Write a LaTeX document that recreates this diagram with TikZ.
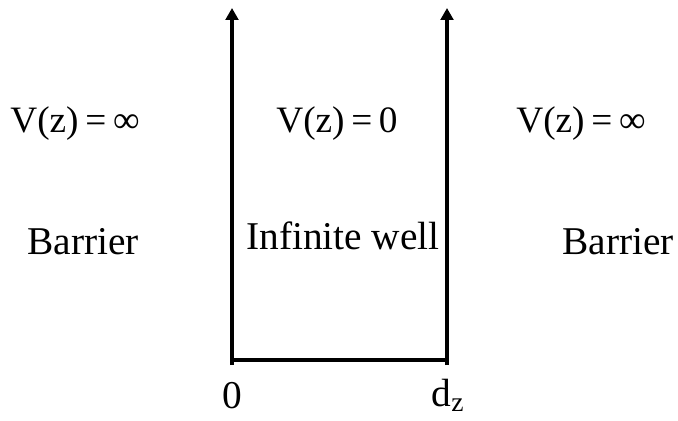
\documentclass[tikz,border=0pt]{standalone}
\usepackage{fontspec}
\setmainfont{Liberation Serif}
\usetikzlibrary{arrows.meta,positioning}

\begin{document}
\begin{tikzpicture}[
  wall/.style={line width=2.2pt,-{Triangle[length=8.5pt,width=9pt]}},
  floor/.style={line width=2.2pt},
  lbl/.style={font=\fontsize{28}{32}\selectfont,inner sep=0pt,anchor=base},
  pot/.style={lbl,font=\fontsize{26.5}{32}\selectfont}
]
  \useasboundingbox (0,0) rectangle (16.95,10.5);
  % walls of the well
  \coordinate (lbot) at (5.8,1.375);
  \coordinate (ltop) at (5.8,10.3);
  \coordinate (rbot) at (11.175,1.375);
  \coordinate (rtop) at (11.175,10.3);
  \coordinate (lfl) at (5.8,1.5);
  \coordinate (rfl) at (11.175,1.5);
  \draw[wall] (lbot) -- (ltop);
  \draw[wall] (rbot) -- (rtop);
  \draw[floor] (lfl) -- (rfl);
  % potentials
  \node[pot] (vleft) at (1.875,7.2) {V(z)\hspace{0.18em}=\hspace{0.18em}∞};
  \node[pot] (vmid) at (8.425,7.2) {V(z)\hspace{0.18em}=\hspace{0.18em}0};
  \node[pot] (vright) at (14.525,7.2) {V(z)\hspace{0.18em}=\hspace{0.18em}∞};
  % regions
  \node[lbl] (barl) at (2.075,4.15) {Barrier};
  \node[lbl] (well) at (8.575,4.275) {Infinite well};
  \node[lbl] (barr) at (15.45,4.15) {Barrier};
  % axis marks
  \node[lbl] (zero) at (5.8,0.3) {0};
  \node[lbl] (dz) at (11.2,0.35) {d\textsubscript{z}};
\end{tikzpicture}
\end{document}
